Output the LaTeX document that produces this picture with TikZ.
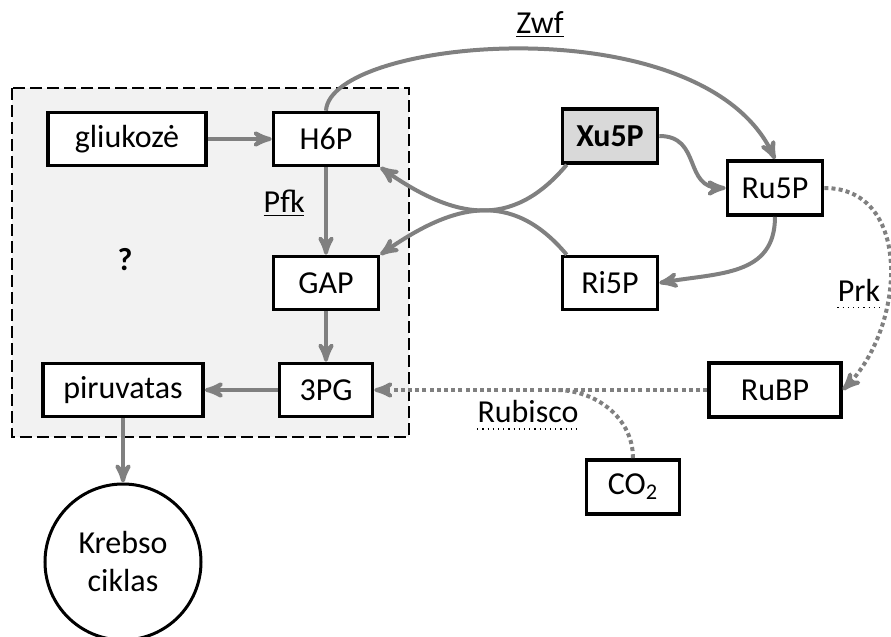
\documentclass[tikz,border=0pt]{standalone}
\usepackage{fontspec}
\setmainfont{Carlito}
\usetikzlibrary{arrows, positioning}

\begin{document}
\begin{tikzpicture}[x=0.5pt, y=-0.5pt, >=stealth', node distance=72pt,
		font=\fontsize{16}{19}\selectfont,
		box/.style={draw, line width=1.8pt, fill=white, minimum height=26.5pt, inner sep=2pt},
		flow/.style={gray, line width=2pt},
		dotflow/.style={gray, line width=2pt, dash pattern=on 2pt off 1.6pt},
		lbl/.style={inner sep=0pt}]
		
		\useasboundingbox (0,0) rectangle (891,637);
		\draw[line width=1pt, dash pattern=on 6pt off 2.5pt, fill=black!5] (12,88) rectangle (409,437);
		
		\node[box, minimum width=79pt] (gluk) at (127,139) {gliukozė};
		\node[box, minimum width=52.5pt] (h6p) [right of=gluk, node distance=99.5pt] {H6P};
		\node[box, minimum width=52.5pt] (gap) [below of=h6p] {GAP};
		\node[box, minimum width=46.5pt] (pg3) [below of=gap, node distance=53.5pt] {3PG};
		\node[box, minimum width=80pt] (piru) [left of=pg3, node distance=101.5pt] {piruvatas};
		\node[circle, draw, line width=1.5pt, minimum size=78pt, inner sep=0pt, align=center] (krebs) [below of=piru, node distance=86pt] {Krebso\\ciklas};
		
		\node[box, fill=gray!30, font=\fontsize{16}{19}\selectfont\bfseries, minimum width=47.5pt, minimum height=27pt] (xu5p) at (610,136) {Xu5P};
		\node[box, minimum width=47.5pt] (ri5p) [below of=xu5p, node distance=73.5pt] {Ri5P};
		\node[box, minimum width=47.5pt, minimum height=27pt] (ru5p) at (775,188) {Ru5P};
		\node[box, minimum width=66pt, minimum height=27pt] (rubp) [below of=ru5p, node distance=101pt] {RuBP};
		\node[box, minimum width=46.5pt, minimum height=27pt] (co2) at (633,487) {CO\textsubscript{2}};
		
		\node[font=\fontsize{16}{19}\selectfont\bfseries] (quest) at (125,260) {?};
		\node (pfk) at (284,203) {\underline{Pfk}};
		\node (zwf) at (540,25) {\underline{Zwf}};
		\node[lbl] (rubisco) at (528,412) {Rubisco};
		\node[lbl] (prk) at (859,290) {Prk};
		\draw[dotted, line width=0.6pt] ([yshift=-3pt]rubisco.base west) -- ([yshift=-3pt]rubisco.base east);
		\draw[dotted, line width=0.6pt] ([yshift=-3pt]prk.base west) -- ([yshift=-3pt]prk.base east);
		
		\coordinate (join) at (556,390);
		
		\path[flow, ->]
		(gluk) edge (h6p)
		(h6p) edge (gap)
		(gap) edge (pg3)
		(pg3) edge (piru)
		(piru) edge (krebs)
		
		(xu5p.east) edge [out=0, in=180, looseness=1.3] (ru5p.west)
		([xshift=3pt]xu5p.south west) edge [out=-130, in=-35, looseness=1.2] (h6p.south east)
		([xshift=3pt]ri5p.north west) edge [out=130, in=35, looseness=1.2] (gap.north east)
		(ru5p.south) edge [out=-90, in=10, looseness=1.15] (ri5p.east);
		
		\draw[flow, ->] (h6p.north) .. controls +(4,-73) and +(-72,-156) .. (ru5p.north);
		
		\path[dotflow]
		(ru5p.east) edge [->, out=0, in=45, looseness=1.12] (rubp.east)
		(rubp) edge [->] (pg3)
		(co2.north) edge [out=90, in=0] (join);
		
\end{tikzpicture}
\end{document}
